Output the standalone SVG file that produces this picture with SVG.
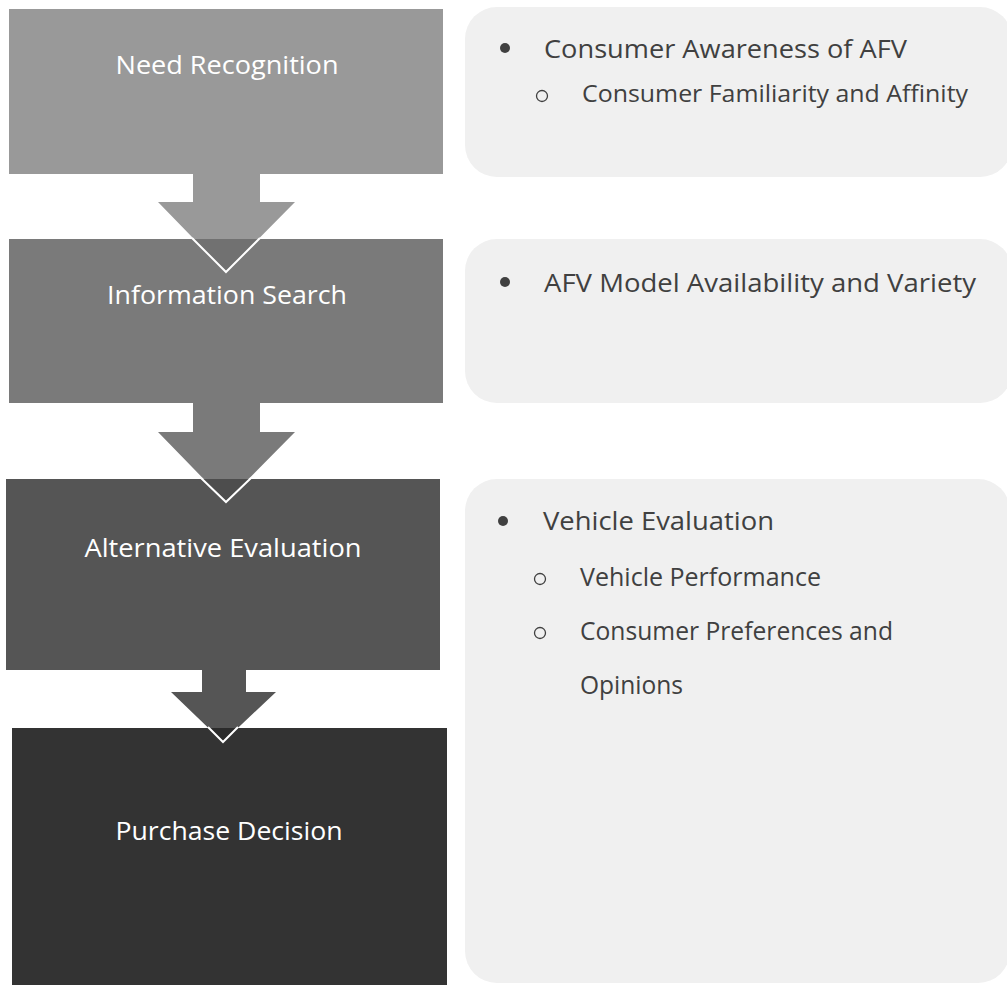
<svg xmlns="http://www.w3.org/2000/svg" width="1007" height="985" viewBox="0 0 1007 985">
  <style>
    .stage { stroke: none; }
    .stage-label { font-family: "Open Sans", "Liberation Sans", sans-serif; font-size: 25px; fill: #ffffff; text-anchor: middle; }
    .panel { fill: #f0f0f0; }
    .item { font-family: "Open Sans", "Liberation Sans", sans-serif; font-size: 25px; fill: #404040; }
    .sub { font-family: "Open Sans", "Liberation Sans", sans-serif; font-size: 23px; fill: #404040; }
    .dot { fill: #404040; }
    .ring { fill: none; stroke: #404040; stroke-width: 1.3; }
    .arrow-edge { fill: none; stroke: #ffffff; stroke-width: 2; }
  </style>

  <rect width="1007" height="985" fill="#ffffff"/>

  <!-- detail panels -->
  <g id="panel-need">
    <rect class="panel" x="465" y="7" width="547" height="170" rx="32"/>
    <circle class="dot" cx="505" cy="48" r="5"/>
    <text class="item" x="544" y="58" textLength="363" lengthAdjust="spacingAndGlyphs">Consumer Awareness of AFV</text>
    <circle class="ring" cx="542" cy="96" r="5.5"/>
    <text class="sub" x="582" y="102" textLength="386" lengthAdjust="spacingAndGlyphs">Consumer Familiarity and Affinity</text>
  </g>
  <g id="panel-info">
    <rect class="panel" x="465" y="239" width="547" height="164" rx="32"/>
    <circle class="dot" cx="505" cy="282" r="5"/>
    <text class="item" x="544" y="292" textLength="432" lengthAdjust="spacingAndGlyphs">AFV Model Availability and Variety</text>
  </g>
  <g id="panel-eval">
    <rect class="panel" x="465" y="479" width="545" height="504" rx="32"/>
    <circle class="dot" cx="503" cy="521" r="5"/>
    <text class="item" x="543" y="530" textLength="231" lengthAdjust="spacingAndGlyphs">Vehicle Evaluation</text>
    <circle class="ring" cx="540" cy="579" r="5.5"/>
    <text class="item" x="580" y="586" textLength="241" lengthAdjust="spacingAndGlyphs">Vehicle Performance</text>
    <circle class="ring" cx="540" cy="633" r="5.5"/>
    <text class="item" x="580" y="640" textLength="313" lengthAdjust="spacingAndGlyphs">Consumer Preferences and</text>
    <text class="item" x="580" y="694" textLength="103" lengthAdjust="spacingAndGlyphs">Opinions</text>
  </g>

  <!-- down arrows between stages -->
  <g id="connectors">
    <polygon fill="#999999" points="193,174 260,174 260,202 295,202 226,272 158,202 193,202"/>
    <polygon fill="#7a7a7a" points="193,403 260,403 260,432 295,432 226,502 158,432 193,432"/>
    <polygon fill="#555555" points="202,670 246,670 246,692 276,692 223,742 171,692 202,692"/>
  </g>

  <g id="stage-need">
    <rect class="stage" x="9" y="9" width="434" height="165" fill="#999999"/>
    <text class="stage-label" x="227" y="74" textLength="223" lengthAdjust="spacingAndGlyphs">Need Recognition</text>
  </g>
  <g id="stage-info">
    <rect class="stage" x="9" y="239" width="434" height="164" fill="#7a7a7a"/>
    <text class="stage-label" x="227" y="304" textLength="240" lengthAdjust="spacingAndGlyphs">Information Search</text>
  </g>
  <g id="stage-alt">
    <rect class="stage" x="6" y="479" width="434" height="191" fill="#555555"/>
    <text class="stage-label" x="223" y="557" textLength="277" lengthAdjust="spacingAndGlyphs">Alternative Evaluation</text>
  </g>
  <g id="stage-purchase">
    <rect class="stage" x="12" y="728" width="435" height="257" fill="#333333"/>
    <text class="stage-label" x="229" y="840" textLength="227" lengthAdjust="spacingAndGlyphs">Purchase Decision</text>
  </g>

  <!-- arrow tips overlapping the next stage -->
  <g id="arrow-tips">
    <polygon fill="#717171" points="193,239 259,239 226,272"/>
    <polyline class="arrow-edge" points="192,238 226,272 260,238"/>
    <polygon fill="#4d4d4d" points="202,479 250,479 226,502"/>
    <polyline class="arrow-edge" points="201,478 226,502 251,478"/>
    <polygon fill="#2b2b2b" points="209,728 237,728 223,742"/>
    <polyline class="arrow-edge" points="208,727 223,742 238,727"/>
  </g>
</svg>
